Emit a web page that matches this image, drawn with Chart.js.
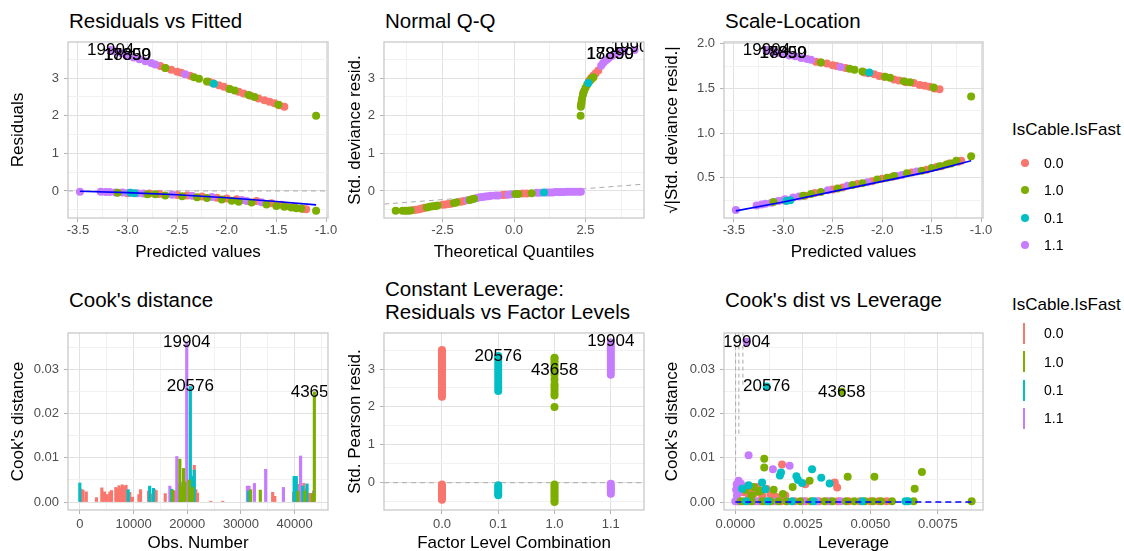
<!DOCTYPE html>
<html>
<head>
<meta charset="utf-8">
<script src="https://cdn.jsdelivr.net/npm/chart.js@4.4.1/dist/chart.umd.min.js"></script>
<style>
  body { margin: 0; width: 1124px; height: 551px; overflow: hidden; background: #fff; position: relative;
         font-family: "Liberation Sans", Arial, Helvetica, sans-serif; color: #000; }
  canvas { position: absolute; }
  .ttl { position: absolute; font-size: 20.5px; line-height: 23px; white-space: nowrap; }
  .legTitle { position: absolute; font-size: 17px; line-height: 20px; white-space: nowrap; }
  .legLab { position: absolute; font-size: 14px; line-height: 16px; }
  .dot { position: absolute; width: 8px; height: 8px; border-radius: 50%; }
  .bar { position: absolute; width: 2px; height: 21px; }
</style>
</head>
<body>

<div class="ttl" style="left:69px;top:9px">Residuals vs Fitted</div>
<div class="ttl" style="left:385px;top:9px">Normal Q-Q</div>
<div class="ttl" style="left:725px;top:9px">Scale-Location</div>
<div class="ttl" style="left:69px;top:288px">Cook's distance</div>
<div class="ttl" style="left:385px;top:277px">Constant Leverage:<br>Residuals vs Factor Levels</div>
<div class="ttl" style="left:725px;top:288px">Cook's dist vs Leverage</div>

<canvas id="rvf"></canvas>
<canvas id="qq"></canvas>
<canvas id="sl"></canvas>
<canvas id="cook"></canvas>
<canvas id="flev"></canvas>
<canvas id="clev"></canvas>

<div id="legendTop"></div>
<div id="legendBottom"></div>

<script>
// ---- factor levels (IsCable.IsFast) ----
const levels = ['0.0', '1.0', '0.1', '1.1'];
const levelColors = ['#F8766D', '#7CAE00', '#00BFC4', '#C77CFF'];
const factorOrder = ['0.0', '0.1', '1.0', '1.1'];

// ---- fitted values, residuals and sqrt|std. residual| (same observations) ----
const fit00 = [-2.67,-2.62,-2.56,-2.50,-2.46,-2.37,-2.18,-2.14,-2.08,-2.03,-1.98,-1.88,-1.83,-1.76,-1.68,-1.62,-1.57,-1.52,-1.47,-1.42,
               -3.00,-2.78,-2.68,-2.50,-2.40,-2.25,-2.10,-2.00,-1.90,-1.70,-1.55,-1.45,-1.40,-1.32,-1.23,-1.20];
const res00 = [3.32,3.27,3.22,3.17,3.14,3.06,2.90,2.86,2.81,2.77,2.72,2.64,2.59,2.53,2.46,2.41,2.37,2.33,2.28,2.24,
               -0.06,-0.07,-0.08,-0.11,-0.12,-0.15,-0.18,-0.20,-0.22,-0.27,-0.33,-0.37,-0.40,-0.43,-0.48,-0.49];
const sl00  = [1.80,1.79,1.78,1.76,1.75,1.73,1.68,1.67,1.66,1.64,1.63,1.60,1.59,1.57,1.56,1.54,1.53,1.52,1.50,1.49,
               0.25,0.30,0.33,0.37,0.39,0.43,0.46,0.49,0.51,0.56,0.59,0.62,0.63,0.66,0.68,0.69];

const fit10 = [-2.62,-2.33,-2.28,-2.20,-1.97,-1.92,-1.78,-1.72,-1.48,-1.10,
               -3.10,-2.80,-2.72,-2.62,-2.45,-2.30,-2.20,-2.05,-1.95,-1.88,-1.75,-1.60,-1.50,-1.42,-1.35,-1.30,-1.25,-1.10];
const res10 = [3.27,3.02,2.98,2.91,2.71,2.67,2.55,2.50,2.29,2.00,
               -0.05,-0.09,-0.09,-0.12,-0.14,-0.17,-0.19,-0.23,-0.26,-0.29,-0.31,-0.36,-0.40,-0.42,-0.44,-0.46,-0.47,-0.53];
const sl10  = [1.79,1.72,1.71,1.69,1.63,1.62,1.58,1.57,1.51,1.41,
               0.23,0.30,0.32,0.34,0.38,0.42,0.44,0.48,0.50,0.52,0.55,0.58,0.61,0.63,0.65,0.66,0.69,0.74];

const fit01 = [-2.13,-2.97,-2.93];
const res01 = [2.85,-0.05,-0.06];
const sl01  = [1.68,0.24,0.25];

const fit11 = [-3.17,-3.12,-3.06,-3.00,-2.94,-2.88,-2.82,-2.76,-2.72,-2.42,
               -3.48,-3.27,-3.22,-3.18,-3.12,-3.05,-2.98,-2.90,-2.84,-2.55,-2.35,-2.15,-1.85,-1.80,-1.65];
const res11 = [3.75,3.71,3.66,3.60,3.55,3.50,3.45,3.40,3.36,3.10,
               -0.02,-0.02,-0.03,-0.03,-0.04,-0.04,-0.05,-0.06,-0.07,-0.10,-0.13,-0.16,-0.24,-0.27,-0.30];
const sl11  = [1.93,1.92,1.90,1.89,1.87,1.86,1.84,1.83,1.82,1.74,
               0.14,0.19,0.20,0.21,0.22,0.24,0.26,0.28,0.29,0.36,0.41,0.45,0.52,0.53,0.57];

// smoother lines
const smoothFit = [-3.48,-3.0,-2.5,-2.0,-1.5,-1.10];
const smoothRes = [-0.01,-0.045,-0.10,-0.18,-0.28,-0.37];
const smoothSl  = [0.13,0.23,0.345,0.46,0.575,0.69];

const rvfLabelText = ['19904','18850','17899'];
const rvfLabelX = [-3.17,-3.00,-3.005];
const rvfLabelY = [3.75,3.60,3.61];
const slLabelX = [-3.17,-3.00,-3.005];
const slLabelY = [1.93,1.89,1.895];

// ---- normal Q-Q ----
const qqX00 = [-3.52,-3.42,-3.32,-3.22,-3.14,-2.50,-2.40,-2.30,-2.20,-1.85,-1.75,-0.40,-0.30,0.30,0.45,2.35,2.37,2.42,2.62,2.70,2.78,2.86,2.95];
const qqY00 = [-0.51,-0.50,-0.49,-0.47,-0.45,-0.37,-0.36,-0.35,-0.34,-0.29,-0.27,-0.11,-0.10,-0.07,-0.07,2.30,2.40,2.60,2.92,3.00,3.07,3.13,3.20];
const qqX10 = [-4.14,-3.90,-3.80,-3.70,-3.62,-3.05,-2.95,-2.85,-2.75,-2.68,-2.10,-2.02,-1.55,-1.47,-1.40,0.05,0.15,0.62,
               2.33,2.34,2.36,2.38,2.41,2.45,2.50,2.56,2.66,2.72,2.78];
const qqY10 = [-0.53,-0.53,-0.53,-0.53,-0.52,-0.44,-0.42,-0.41,-0.40,-0.39,-0.32,-0.31,-0.24,-0.22,-0.21,-0.08,-0.08,-0.06,
               2.00,2.24,2.33,2.45,2.55,2.65,2.74,2.82,2.93,2.98,3.02];
const qqX01 = [1.05,2.60];
const qqY01 = [-0.04,2.87];
const qqX11 = [-1.62,-1.30,-1.20,-1.10,-1.00,-0.90,-0.80,-0.65,-0.55,-0.20,-0.10,0.80,0.92,1.15,1.25,1.35,1.45,1.55,1.65,1.75,1.85,1.95,2.05,2.15,2.25,2.34,
               3.05,3.12,3.20,3.28,3.36,3.45,3.55,3.68,3.85,4.22];
const qqY11 = [-0.25,-0.19,-0.17,-0.16,-0.15,-0.14,-0.13,-0.12,-0.12,-0.10,-0.09,-0.05,-0.05,-0.04,-0.04,-0.04,-0.03,-0.03,-0.03,-0.03,-0.02,-0.02,-0.02,-0.02,-0.02,-0.02,
               3.33,3.40,3.46,3.51,3.56,3.60,3.64,3.68,3.72,3.75];
const qqLineX = [-4.55,4.55];
const qqLineY = [-0.35,0.18];
const qqLabelText = ['19904','18850','17899'];
const qqLabelX = [4.21,3.36,3.37];
const qqLabelY = [3.82,3.62,3.63];

// ---- Cook's distance by observation ----
const cookObs00 = [250,600,1200,3100,4100,4600,5100,5600,5900,6700,7000,7300,7600,7900,8300,8600,9300,9800,11000,11300,12800,13300,13900,14200,15900,
                   17600,18300,20200,21300,21600,21900,24400,26600,31700,35900,36300,39800,40300,40700,41300,41700,42100,42700,43100];
const cookVal00 = [0.0029,0.0027,0.0023,0.0010,0.0032,0.0023,0.0017,0.0023,0.0026,0.0033,0.0030,0.0037,0.0031,0.0039,0.0035,0.0038,0.0022,0.0011,0.0017,0.0028,0.0025,0.0018,0.0028,0.0026,0.0019,
                   0.0025,0.0030,0.0045,0.0083,0.0028,0.0020,0.0002,0.0002,0.0020,0.0022,0.0013,0.0022,0.0030,0.0040,0.0035,0.0042,0.0030,0.0020,0.0019];
const cookObs10 = [17300,18620,18900,19310,19560,20370,20990,31800,33600,40600,41900,43300,43658];
const cookVal10 = [0.0027,0.0097,0.0035,0.0076,0.0045,0.0050,0.0033,0.0028,0.0027,0.0024,0.0025,0.0019,0.0249];
const cookObs01 = [0,9000,13000,13700,17100,20576,20800,21300,31400,39900,40300,41500,42300];
const cookVal01 = [0.0043,0.0028,0.0036,0.0031,0.0029,0.0261,0.0058,0.0072,0.0025,0.0058,0.0058,0.0036,0.0041];
const cookObs11 = [16760,18060,18380,18940,19904,31200,31500,32500,34600,37900,41100,43500];
const cookVal11 = [0.0036,0.0103,0.0040,0.0045,0.0362,0.0036,0.0036,0.0042,0.0074,0.0033,0.0104,0.0025];
const cookLabelText = ['19904','20576','43658'];
const cookLabelX = [19904,20576,43658];
const cookLabelY = [0.0362,0.0261,0.0249];

// ---- std. Pearson residuals by factor level combination ----
const fl00 = [2.27,2.34,2.41,2.48,2.55,2.62,2.69,2.76,2.83,2.90,2.97,3.04,3.11,3.18,3.25,3.32,3.39,3.46,3.50,
              -0.05,-0.10,-0.15,-0.20,-0.25,-0.30,-0.35,-0.40,-0.45];
const fl01 = [2.42,2.50,2.58,2.66,2.74,2.82,2.90,2.98,3.06,3.14,3.22,3.30,3.34,
              -0.07,-0.12,-0.18,-0.24,-0.29,-0.33];
const fl10 = [2.00,2.30,2.37,2.45,2.53,2.60,2.72,2.85,2.92,2.99,3.06,3.13,3.20,3.27,3.30,
              -0.05,-0.10,-0.16,-0.22,-0.28,-0.34,-0.40,-0.46,-0.51];
const fl11 = [2.85,2.92,2.99,3.06,3.13,3.20,3.27,3.34,3.41,3.48,3.55,3.62,3.70,
              -0.03,-0.08,-0.13,-0.18,-0.24,-0.29];
const flLabelText = ['20576','43658','19904'];
const flLabelX = [1,2,3];
const flLabelY = [3.34,2.97,3.72];

// ---- Cook's distance vs leverage ----
const levX00 = [0.00020,0.00030,0.00040,0.00050,0.00060,0.00070,0.00080,0.00090,0.00100,0.00115,0.00130,0.00150,0.00173,0.00185,0.00259,0.00368,0.00377,
                0.0001,0.0003,0.0005,0.0007,0.0009,0.0011,0.0014,0.0017,0.0022,0.0026,0.0031,0.0034,0.0038,0.0042,0.0046,0.0050,0.0053,0.0056];
const levY00 = [0.0030,0.0022,0.0035,0.0016,0.0028,0.0020,0.0034,0.0024,0.0013,0.0030,0.0018,0.0012,0.0085,0.0015,0.0040,0.0044,0.0033,
                0.0002,0.0002,0.0002,0.0002,0.0002,0.0002,0.0002,0.0002,0.0002,0.0002,0.0002,0.0002,0.0002,0.0002,0.0002,0.0002,0.0002,0.0002];
const levX10 = [0.00037,0.00068,0.00086,0.00107,0.00107,0.00142,0.00176,0.00212,0.00275,0.00394,0.00416,0.00515,0.00664,0.00691,0.00060,0.00095,
                0.0002,0.0006,0.0010,0.0013,0.0016,0.0019,0.0024,0.0028,0.0033,0.0036,0.0041,0.0044,0.0048,0.0051,0.0054,0.0058,0.0066,0.00875];
const levY10 = [0.0028,0.0034,0.0023,0.0098,0.0078,0.0028,0.0018,0.0034,0.0048,0.0249,0.0057,0.0057,0.0030,0.0068,0.0015,0.0026,
                0.0002,0.0002,0.0002,0.0002,0.0002,0.0002,0.0002,0.0002,0.0002,0.0002,0.0002,0.0002,0.0002,0.0002,0.0002,0.0002,0.0002,0.0002];
const levX01 = [0.00049,0.00099,0.00111,0.00116,0.00165,0.00169,0.00226,0.00232,0.00247,0.00284,0.00318,0.00349,0.00025,
                0.0004,0.0012,0.0021,0.0029,0.0047,0.0063,0.0064];
const levY01 = [0.0038,0.0044,0.0029,0.0261,0.0060,0.0067,0.0058,0.0050,0.0043,0.0074,0.0055,0.0042,0.0030,
                0.0002,0.0002,0.0002,0.0002,0.0002,0.0002,0.0002];
const levX11 = [0.00042,0.00049,0.00139,0.00201,0.00012,0.00005,0.00008,0.00003,0.00010,0.00015,0.00006,0.00020,
                0.0000,0.0001,0.0008,0.0015,0.0019,0.0025,0.0030,0.0035,0.0039];
const levY11 = [0.0362,0.0106,0.0074,0.0082,0.0048,0.0040,0.0033,0.0028,0.0022,0.0036,0.0015,0.0042,
                0.0002,0.0002,0.0002,0.0002,0.0002,0.0002,0.0002,0.0002,0.0002];
const contourX = [[0.00001,0.00001],[0.00013,0.00013],[0.00028,0.00028]];
const contourY = [[0.0385,0.0055],[0.0385,0.0150],[0.0385,0.0260]];
const levSmoothX = [0,0.00875];
const levSmoothY = [0,0];
const levLabelText = ['19904','20576','43658'];
const levLabelX = [0.00042,0.00116,0.00394];
const levLabelY = [0.0362,0.0261,0.0249];

// ---- drawing helpers ----
const FONT = '"Liberation Sans", Arial, Helvetica, sans-serif';
Chart.defaults.font.family = FONT;
Chart.defaults.animation = false;

const panelFrame = {
  id: 'panelFrame',
  afterDraw(chart) {
    const a = chart.chartArea, ctx = chart.ctx;
    ctx.save();
    ctx.strokeStyle = '#c9c9c9';
    ctx.lineWidth = 1.3;
    ctx.strokeRect(a.left, a.top, a.right - a.left, a.bottom - a.top);
    ctx.restore();
  }
};

const pointText = {
  id: 'pointText',
  afterDatasetsDraw(chart, args, opts) {
    if (!opts.text) return;
    const {ctx, chartArea: a, scales} = chart;
    ctx.save();
    ctx.beginPath();
    ctx.rect(a.left, a.top, a.right - a.left, a.bottom - a.top);
    ctx.clip();
    ctx.font = '17px ' + FONT;
    ctx.fillStyle = '#000';
    ctx.textAlign = 'center';
    ctx.textBaseline = 'middle';
    opts.text.forEach((t, i) => {
      ctx.fillText(t, scales.x.getPixelForValue(opts.x[i]), scales.y.getPixelForValue(opts.y[i]));
    });
    ctx.restore();
  }
};
Chart.register(panelFrame, pointText);

function tickList(major, min, max, minor) {
  const list = major.map(v => ({ value: v }));
  if (minor && major.length > 1) {
    const step = major[1] - major[0];
    for (let k = -1; k < major.length; k++) {
      const v = major[0] + step * (k + 0.5);
      if (v > min && v < max) list.push({ value: v, minor: true });
    }
  }
  return list.sort((a, b) => a.value - b.value);
}

function axis(o) {
  const ticks = tickList(o.major, o.min, o.max, o.minor !== false);
  return {
    type: 'linear', min: o.min, max: o.max, offset: false,
    afterBuildTicks: s => { s.ticks = ticks.map(t => Object.assign({}, t)); },
    afterFit: s => { if (s.isHorizontal()) s.height = o.size; else s.width = o.size; },
    ticks: {
      autoSkip: false, maxRotation: 0, minRotation: 0, padding: o.pad,
      color: '#4d4d4d', font: { size: 13 },
      callback: (v, i, t) => t[i].minor ? '' : o.fmt(v)
    },
    grid: {
      offset: false, tickLength: 4,
      color: c => (c.tick && c.tick.minor) ? '#f1f1f1' : '#e1e1e1',
      tickColor: c => (c.tick && c.tick.minor) ? 'rgba(0,0,0,0)' : '#b3b3b3'
    },
    border: { display: false },
    title: { display: true, text: o.title, color: '#000', font: { size: 17 }, padding: { top: 2, bottom: 2 } }
  };
}

function pts(xs, ys, color) {
  return { data: xs.map((x, i) => ({ x: x, y: ys[i] })), backgroundColor: color, borderWidth: 0,
           pointRadius: 4, pointHoverRadius: 4, clip: 0 };
}
function line(xs, ys, color, width, dash) {
  return { data: xs.map((x, i) => ({ x: x, y: ys[i] })), showLine: true, borderColor: color, borderWidth: width,
           borderDash: dash || [], pointRadius: 0, fill: false, tension: 0, clip: 0 };
}
function bars(xs, ys, color) {
  return { type: 'bar', data: xs.map((x, i) => ({ x: x, y: ys[i] })), backgroundColor: color, borderWidth: 0,
           barThickness: 2.5, grouped: false, clip: 0 };
}

function panel(id, box, type, datasets, xAx, yAx, labels) {
  const cv = document.getElementById(id);
  const top = 14, right = 24;
  cv.width = yAx.size + box.w + right;
  cv.height = top + box.h + xAx.size;
  cv.style.left = (box.l - yAx.size) + 'px';
  cv.style.top = (box.t - top) + 'px';
  new Chart(cv, {
    type: type,
    data: { datasets: datasets },
    options: {
      responsive: false,
      layout: { padding: { left: 0, top: top, right: right, bottom: 0 } },
      scales: { x: axis(xAx), y: axis(yAx) },
      plugins: { legend: { display: false }, tooltip: { enabled: false }, pointText: labels || {} }
    }
  });
}

const fmt1 = v => v.toFixed(1);
const fmt0 = v => v.toFixed(0);
const C = levelColors;
const grey = '#ababab';

// Residuals vs Fitted
panel('rvf', { l: 68, t: 42, w: 260, h: 176 }, 'scatter', [
  line(smoothFit, smoothRes, '#0000ff', 1.6),
  pts(fit01, res01, C[2]), pts(fit10, res10, C[1]), pts(fit11, res11, C[3]), pts(fit00, res00, C[0]),
  line([-3.60, -0.98], [0, 0], grey, 1, [5, 4])
], { min: -3.60, max: -0.98, major: [-3.5,-3,-2.5,-2,-1.5,-1], fmt: fmt1, title: 'Predicted values', size: 47, pad: 1 },
   { min: -0.72, max: 3.96, major: [0,1,2,3], fmt: fmt0, title: 'Residuals', size: 62, pad: 5 },
   { text: rvfLabelText, x: rvfLabelX, y: rvfLabelY });

// Normal Q-Q
panel('qq', { l: 384, t: 42, w: 260, h: 176 }, 'scatter', [
  pts(qqX01, qqY01, C[2]), pts(qqX10, qqY10, C[1]), pts(qqX11, qqY11, C[3]), pts(qqX00, qqY00, C[0]),
  line(qqLineX, qqLineY, grey, 1, [5, 4])
], { min: -4.55, max: 4.55, major: [-2.5, 0, 2.5], fmt: fmt1, title: 'Theoretical Quantiles', size: 47, pad: 1 },
   { min: -0.72, max: 3.96, major: [0,1,2,3], fmt: fmt0, title: 'Std. deviance resid.', size: 41, pad: 5 },
   { text: qqLabelText, x: qqLabelX, y: qqLabelY });

// Scale-Location
panel('sl', { l: 724, t: 42, w: 259, h: 176 }, 'scatter', [
  line(smoothFit, smoothSl, '#0000ff', 1.6),
  pts(fit01, sl01, C[2]), pts(fit10, sl10, C[1]), pts(fit11, sl11, C[3]), pts(fit00, sl00, C[0])
], { min: -3.60, max: -0.98, major: [-3.5,-3,-2.5,-2,-1.5,-1], fmt: fmt1, title: 'Predicted values', size: 47, pad: 1 },
   { min: 0.05, max: 2.02, major: [0.5,1,1.5,2], fmt: fmt1, title: '\u221A|Std. deviance resid.|', size: 64, pad: 5 },
   { text: rvfLabelText, x: slLabelX, y: slLabelY });

// Cook's distance
panel('cook', { l: 68, t: 333, w: 260, h: 177 }, 'bar', [
  bars(cookObs10, cookVal10, C[1]), bars(cookObs01, cookVal01, C[2]), bars(cookObs11, cookVal11, C[3]), bars(cookObs00, cookVal00, C[0])
], { min: -2200, max: 46200, major: [0,10000,20000,30000,40000], fmt: fmt0, title: 'Obs. Number', size: 46, pad: 3 },
   { min: -0.0018, max: 0.0382, major: [0,0.01,0.02,0.03], fmt: v => v.toFixed(2), title: "Cook's distance", size: 62, pad: 5 },
   { text: cookLabelText, x: cookLabelX, y: cookLabelY });

// Constant leverage: residuals vs factor levels
const flSets = [[fl00, 0], [fl01, 2], [fl10, 1], [fl11, 3]].map(([ys, c]) =>
  pts(ys.map(() => factorOrder.indexOf(levels[c])), ys, C[c]));
panel('flev', { l: 384, t: 333, w: 260, h: 177 }, 'scatter', [
  ...flSets,
  line([-1.03, 3.59], [0, 0], grey, 1, [5, 4])
], { min: -1.03, max: 3.59, major: [0,1,2,3], minor: false, fmt: v => factorOrder[Math.round(v)], title: 'Factor Level Combination', size: 46, pad: 3 },
   { min: -0.72, max: 3.95, major: [0,1,2,3], fmt: fmt0, title: 'Std. Pearson resid.', size: 41, pad: 5 },
   { text: flLabelText, x: flLabelX, y: flLabelY });

// Cook's distance vs leverage
panel('clev', { l: 724, t: 333, w: 259, h: 177 }, 'scatter', [
  line(levSmoothX, levSmoothY, '#0000ff', 1.6, [6, 4]),
  pts(levX01, levY01, C[2]), pts(levX10, levY10, C[1]), pts(levX11, levY11, C[3]), pts(levX00, levY00, C[0]),
  ...contourX.map((xs, i) => line(xs, contourY[i], grey, 1, [4, 3]))
], { min: -0.00042, max: 0.00917, major: [0,0.0025,0.005,0.0075], fmt: v => v.toFixed(4), title: 'Leverage', size: 46, pad: 3 },
   { min: -0.0018, max: 0.0382, major: [0,0.01,0.02,0.03], fmt: v => v.toFixed(2), title: "Cook's distance", size: 64, pad: 5 },
   { text: levLabelText, x: levLabelX, y: levLabelY });

// ---- legends ----
function legend(el, titleTop, keyCenters, keyKind) {
  let html = '<div class="legTitle" style="left:1012px;top:' + (titleTop) + 'px">IsCable.IsFast</div>';
  levels.forEach((lv, i) => {
    const cy = keyCenters[i];
    if (keyKind === 'dot') {
      html += '<div class="dot" style="left:1021px;top:' + (cy - 4) + 'px;background:' + levelColors[i] + '"></div>';
    } else {
      html += '<div class="bar" style="left:1023px;top:' + (cy - 10.5) + 'px;background:' + levelColors[i] + '"></div>';
    }
    html += '<div class="legLab" style="left:1044px;top:' + (cy - 8) + 'px">' + lv + '</div>';
  });
  document.getElementById(el).innerHTML = html;
}
legend('legendTop', 120, [162.5, 190, 217.5, 245], 'dot');
legend('legendBottom', 295, [333, 361.5, 390, 418], 'bar');
</script>
</body>
</html>
